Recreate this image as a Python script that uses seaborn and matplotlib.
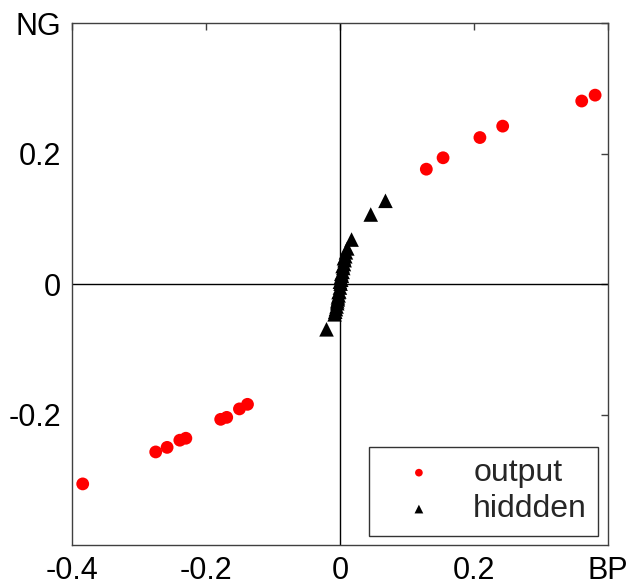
import numpy as np
import pandas as pd
import matplotlib
matplotlib.use("Agg")
import matplotlib.pyplot as plt
import seaborn as sns

# output layer points (BP, NG)
out_x = [-0.384, -0.275, -0.258, -0.239, -0.230, -0.178, -0.169, -0.150, -0.138,
         0.129, 0.154, 0.209, 0.243, 0.361, 0.381]
out_y = [-0.306, -0.257, -0.250, -0.239, -0.236, -0.207, -0.204, -0.191, -0.184,
         0.1765, 0.194, 0.225, 0.2425, 0.281, 0.290]

# hidden layer points
hid_x = [0.068, 0.046, 0.0174, 0.011, 0.009, 0.008, 0.007, 0.006, 0.005, 0.004,
         0.003, 0.002, 0.001, 0.000, -0.001, -0.002, -0.003, -0.004, -0.005,
         -0.006, -0.007, -0.008, -0.020,
         0.004, 0.002, 0.000, -0.002, -0.004, 0.006, 0.001, -0.003]
hid_y = [0.128, 0.107, 0.0686, 0.055, 0.049, 0.043, 0.037, 0.031, 0.025, 0.019,
         0.013, 0.007, 0.001, -0.005, -0.011, -0.017, -0.023, -0.029, -0.034,
         -0.038, -0.042, -0.046, -0.069,
         0.028, 0.016, 0.004, -0.012, -0.026, 0.040, 0.010, -0.020]

series_names = ["output", "hiddden"]
x_ticks = [-0.4, -0.2, 0, 0.2, 0.4]
x_ticklabels = ["-0.4", "-0.2", "0", "0.2", "BP"]
y_ticks = [-0.2, 0, 0.2, 0.4]
y_ticklabels = ["-0.2", "0", "0.2", "NG"]

df_out = pd.DataFrame({"BP": out_x, "NG": out_y, "layer": series_names[0]})
df_hid = pd.DataFrame({"BP": hid_x, "NG": hid_y, "layer": series_names[1]})

sns.set_style("white")
plt.rcParams["font.family"] = ["Liberation Sans", "DejaVu Sans"]

fig = plt.figure(figsize=(6.26, 5.85), dpi=100)
ax = fig.add_axes([0.115, 0.068, 0.856, 0.892])

ax.axhline(0, color="black", lw=1, zorder=1)
ax.axvline(0, color="black", lw=1, zorder=1)

sns.scatterplot(data=df_out, x="BP", y="NG", color="#ff0000", marker="o",
                s=85, edgecolor="none", linewidth=0, ax=ax, zorder=3,
                label=series_names[0])
sns.scatterplot(data=df_hid, x="BP", y="NG", color="black", marker="^",
                s=110, edgecolor="none", linewidth=0, ax=ax, zorder=3,
                label=series_names[1])

ax.set_xlim(-0.4, 0.4)
ax.set_ylim(-0.4, 0.4)
ax.set_xticks(x_ticks)
ax.set_xticklabels(x_ticklabels)
ax.set_yticks(y_ticks)
ax.set_yticklabels(y_ticklabels)
ax.set_xlabel("")
ax.set_ylabel("")
ax.tick_params(axis="both", direction="in", length=5, width=1, colors="#404040",
               labelcolor="black", labelsize=22, top=True, right=True, pad=8)
for sp in ax.spines.values():
    sp.set_color("#404040")
    sp.set_linewidth(1)
    sp.set_visible(True)

handles, labels = ax.get_legend_handles_labels()
leg = ax.legend(handles=handles, labels=labels, loc="lower right", fontsize=23,
                frameon=True, fancybox=False, edgecolor="black",
                borderaxespad=0.3, handletextpad=0.5, borderpad=0.35,
                labelspacing=0.2, handlelength=2.4, markerscale=0.6)
leg.get_frame().set_linewidth(1)

fig.savefig("out.png", dpi=100)
